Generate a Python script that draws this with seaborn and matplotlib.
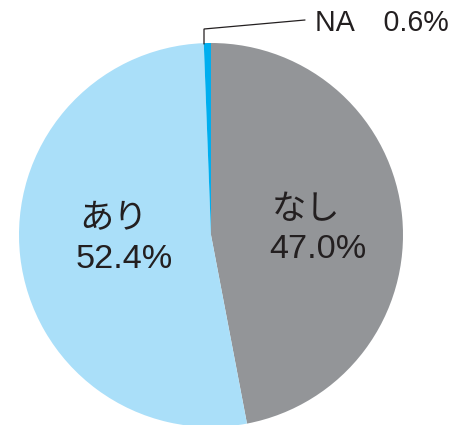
import numpy as np
import matplotlib
matplotlib.use("Agg")
import matplotlib.pyplot as plt
import seaborn as sns

# Survey result shares (percent)
categories = ["なし", "あり", "NA"]
shares = [47.0, 52.4, 0.6]
slice_colors = ["#939598", "#aadff9", "#00aeef"]

sns.set_theme(style="white")
plt.rcParams["font.family"] = ["Liberation Sans", "Noto Sans CJK JP", "DejaVu Sans"]

W, H = 470, 425
fig = plt.figure(figsize=(W / 100, H / 100), dpi=100)
ax = fig.add_axes([0, 0, 1, 1])

cx, cy, r = 211, H - 235, 192
wedges, _ = ax.pie(
    shares,
    colors=slice_colors,
    startangle=90,
    counterclock=False,
    center=(cx, cy),
    radius=r,
    frame=True,
    wedgeprops=dict(linewidth=0),
)
ax.set_xlim(0, W)
ax.set_ylim(0, H)
ax.set_aspect("equal")
ax.axis("off")

txt = dict(fontsize=24.7, color="#231f20", ha="left", va="center")
# なし
ax.text(272, H - 210, categories[0], **txt)
ax.text(269, H - 249, f"{shares[0]:.1f}%", **txt)
# あり
ax.text(79, H - 220, categories[1], **txt)
ax.text(76, H - 260, f"{shares[1]:.1f}%", **txt)

# NA callout with leader line
ax.plot([204, 204, 305], [H - 44, H - 29, H - 20], color="#231f20", lw=0.9,
        solid_joinstyle="miter")
ax.text(315, H - 23, f"{categories[2]}　{shares[2]:.1f}%", fontsize=20.6,
        color="#231f20", ha="left", va="center")

fig.savefig("out.png", dpi=100)
